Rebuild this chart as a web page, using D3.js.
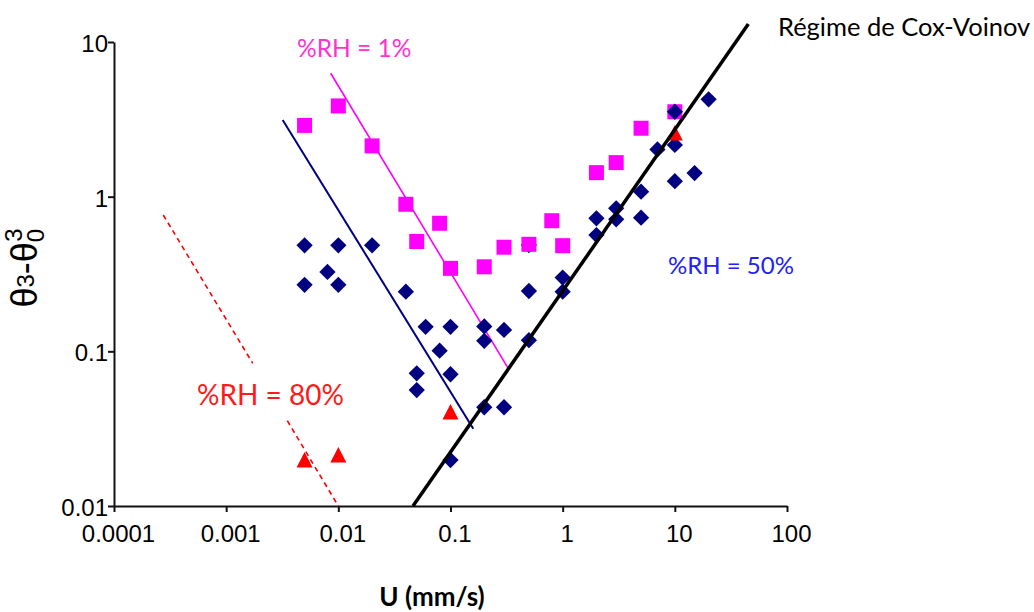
<!DOCTYPE html>
<html>
<head>
<meta charset="utf-8">
<script src="https://cdn.jsdelivr.net/npm/d3@7.9.0/dist/d3.min.js"></script>
<style>
  body { margin: 0; background: #fff; }
  svg { display: block; }
  .tick text { font-family: "Liberation Sans", Arial, sans-serif; font-size: 24px; fill: #000; }
</style>
</head>
<body>
<svg id="chart" width="1034" height="612"></svg>
<script>
// tick labels
const xTicks = [0.0001, 0.001, 0.01, 0.1, 1, 10, 100];
const xTickLabels = ["0.0001", "0.001", "0.01", "0.1", "1", "10", "100"];
const yTicks = [0.01, 0.1, 1, 10];
const yTickLabels = ["0.01", "0.1", "1", "10"];

// %RH = 1% (squares)
const rh1 = [
  [0.005, 2.89], [0.01, 3.86], [0.02, 2.13], [0.04, 0.893], [0.05, 0.513],
  [0.08, 0.673], [0.1, 0.344], [0.2, 0.352], [0.3, 0.471], [0.5, 0.492],
  [0.8, 0.699], [1, 0.482], [2, 1.43], [3, 1.66], [5, 2.77], [10, 3.54]
];

// %RH = 50% (diamonds)
const rh50 = [
  [0.005, 0.485], [0.005, 0.269], [0.008, 0.326], [0.01, 0.485], [0.01, 0.269],
  [0.02, 0.485], [0.04, 0.243], [0.06, 0.144], [0.1, 0.144], [0.08, 0.101],
  [0.05, 0.0721], [0.05, 0.0562], [0.1, 0.0711], [0.1, 0.0198], [0.2, 0.145],
  [0.2, 0.117], [0.3, 0.1375], [0.2, 0.0435], [0.3, 0.0435], [0.5, 0.2455],
  [0.5, 0.118], [0.5, 0.487], [1, 0.300], [1, 0.243], [2, 0.724], [2, 0.565],
  [3, 0.841], [3, 0.714], [5, 1.077], [5, 0.731], [7, 2.02], [10, 2.16],
  [10, 1.26], [15, 1.42], [20, 4.26]
];
// diamond drawn over the square at U = 10
const rh50top = [[10, 3.54]];

// %RH = 80% (triangles)
const rh80 = [[0.005, 0.0198], [0.01, 0.0214], [0.1, 0.0406], [10, 2.58]];

// trend lines (end points)
const coxVoinov = [[0.0463, 0.01], [45.2, 13.07]];
const fit50 = [[0.00319, 3.13], [0.1596, 0.0316]];
const fit1 = [[0.00855, 6.28], [0.327, 0.0776]];
const fit80a = [[0.000275, 0.761], [0.001724, 0.0837]];
const fit80b = [[0.003508, 0.0356], [0.01, 0.01]];

const svg = d3.select("#chart");

const x = d3.scaleLog().domain([0.0001, 100]).range([114, 787]);
const y = d3.scaleLog().domain([0.01, 10]).range([506, 42]);

const line = d3.line().x(d => x(d[0])).y(d => y(d[1]));

// axes
const xAxis = d3.axisBottom(x)
  .tickValues(xTicks)
  .tickFormat((d, i) => xTickLabels[i])
  .tickSizeInner(6).tickSizeOuter(0).tickPadding(13);
const yAxis = d3.axisLeft(y)
  .tickValues(yTicks)
  .tickFormat((d, i) => yTickLabels[i])
  .tickSizeInner(6).tickSizeOuter(0).tickPadding(0);

const gx = svg.append("g").attr("transform", "translate(0,506)").call(xAxis);
const gy = svg.append("g").attr("transform", "translate(114,0)").call(yAxis);
[gx, gy].forEach(g => {
  g.select(".domain").attr("stroke", "#111").attr("stroke-width", 2);
  g.selectAll(".tick line").attr("stroke", "#111").attr("stroke-width", 2);
});
gx.selectAll(".tick text").attr("dx", 4);
gy.selectAll(".tick text").attr("dy", "0.4em");

// fit lines under the markers
svg.append("path").datum(fit50).attr("d", line)
  .attr("stroke", "#000080").attr("stroke-width", 2).attr("fill", "none");
svg.append("path").datum(fit1).attr("d", line)
  .attr("stroke", "#ff00ff").attr("stroke-width", 1.6).attr("fill", "none");
[fit80a, fit80b].forEach(seg => {
  svg.append("path").datum(seg).attr("d", line)
    .attr("stroke", "#ff0000").attr("stroke-width", 1.6)
    .attr("stroke-dasharray", "5,4").attr("fill", "none");
});

// markers
const diamond = d3.symbol(d3.symbolSquare, 11.5 * 11.5);
const triangle = d3.line()([[0, -8], [8, 7.5], [-8, 7.5]]) + "Z";

function drawDiamonds(data) {
  svg.append("g").selectAll("path").data(data).join("path")
    .attr("d", diamond)
    .attr("transform", d => `translate(${x(d[0])},${y(d[1])}) rotate(45)`)
    .attr("fill", "#000080");
}

drawDiamonds(rh50);

svg.append("g").selectAll("rect").data(rh1).join("rect")
  .attr("x", d => x(d[0]) - 7.5)
  .attr("y", d => y(d[1]) - 7.5)
  .attr("width", 15).attr("height", 15)
  .attr("fill", "#ff00ff");

drawDiamonds(rh50top);

svg.append("g").selectAll("path").data(rh80).join("path")
  .attr("d", triangle)
  .attr("transform", d => `translate(${x(d[0])},${y(d[1])})`)
  .attr("fill", "#ff0000");

// Cox-Voinov line on top
svg.append("path").datum(coxVoinov).attr("d", line)
  .attr("stroke", "#000").attr("stroke-width", 3.5).attr("fill", "none");

// annotations
const labelFont = "Lato, 'Open Sans', sans-serif";
svg.append("text").attr("x", 297).attr("y", 57)
  .attr("font-family", labelFont).attr("font-size", 24.5)
  .attr("fill", "#ff33cc").text("%RH = 1%");
svg.append("text").attr("x", 668).attr("y", 274)
  .attr("font-family", labelFont).attr("font-size", 24)
  .attr("fill", "#2020ff").text("%RH = 50%");
svg.append("text").attr("x", 197).attr("y", 405)
  .attr("font-family", labelFont).attr("font-size", 28)
  .attr("fill", "#ff1a1a").text("%RH = 80%");
svg.append("text").attr("x", 778).attr("y", 36)
  .attr("font-family", labelFont).attr("font-size", 25.5)
  .attr("fill", "#000").text("Régime de Cox-Voinov");

// axis titles
svg.append("text").attr("x", 432).attr("y", 606)
  .attr("text-anchor", "middle")
  .attr("font-family", labelFont).attr("font-size", 26).attr("font-weight", "bold")
  .attr("fill", "#000").text("U (mm/s)");

const yTitle = svg.append("text")
  .attr("transform", "translate(37,268) rotate(-90)")
  .attr("text-anchor", "middle")
  .attr("font-family", "'Liberation Sans', Arial, sans-serif").attr("font-size", 36)
  .attr("fill", "#000");
yTitle.append("tspan").text("θ");
yTitle.append("tspan").attr("font-size", 24).attr("dy", -3).text("3");
yTitle.append("tspan").attr("dy", 3).text("-θ");
yTitle.append("tspan").attr("font-size", 24).attr("dy", 7).text("0");
yTitle.append("tspan").attr("font-size", 24).attr("dx", -13).attr("dy", -22).text("3");
</script>
</body>
</html>
